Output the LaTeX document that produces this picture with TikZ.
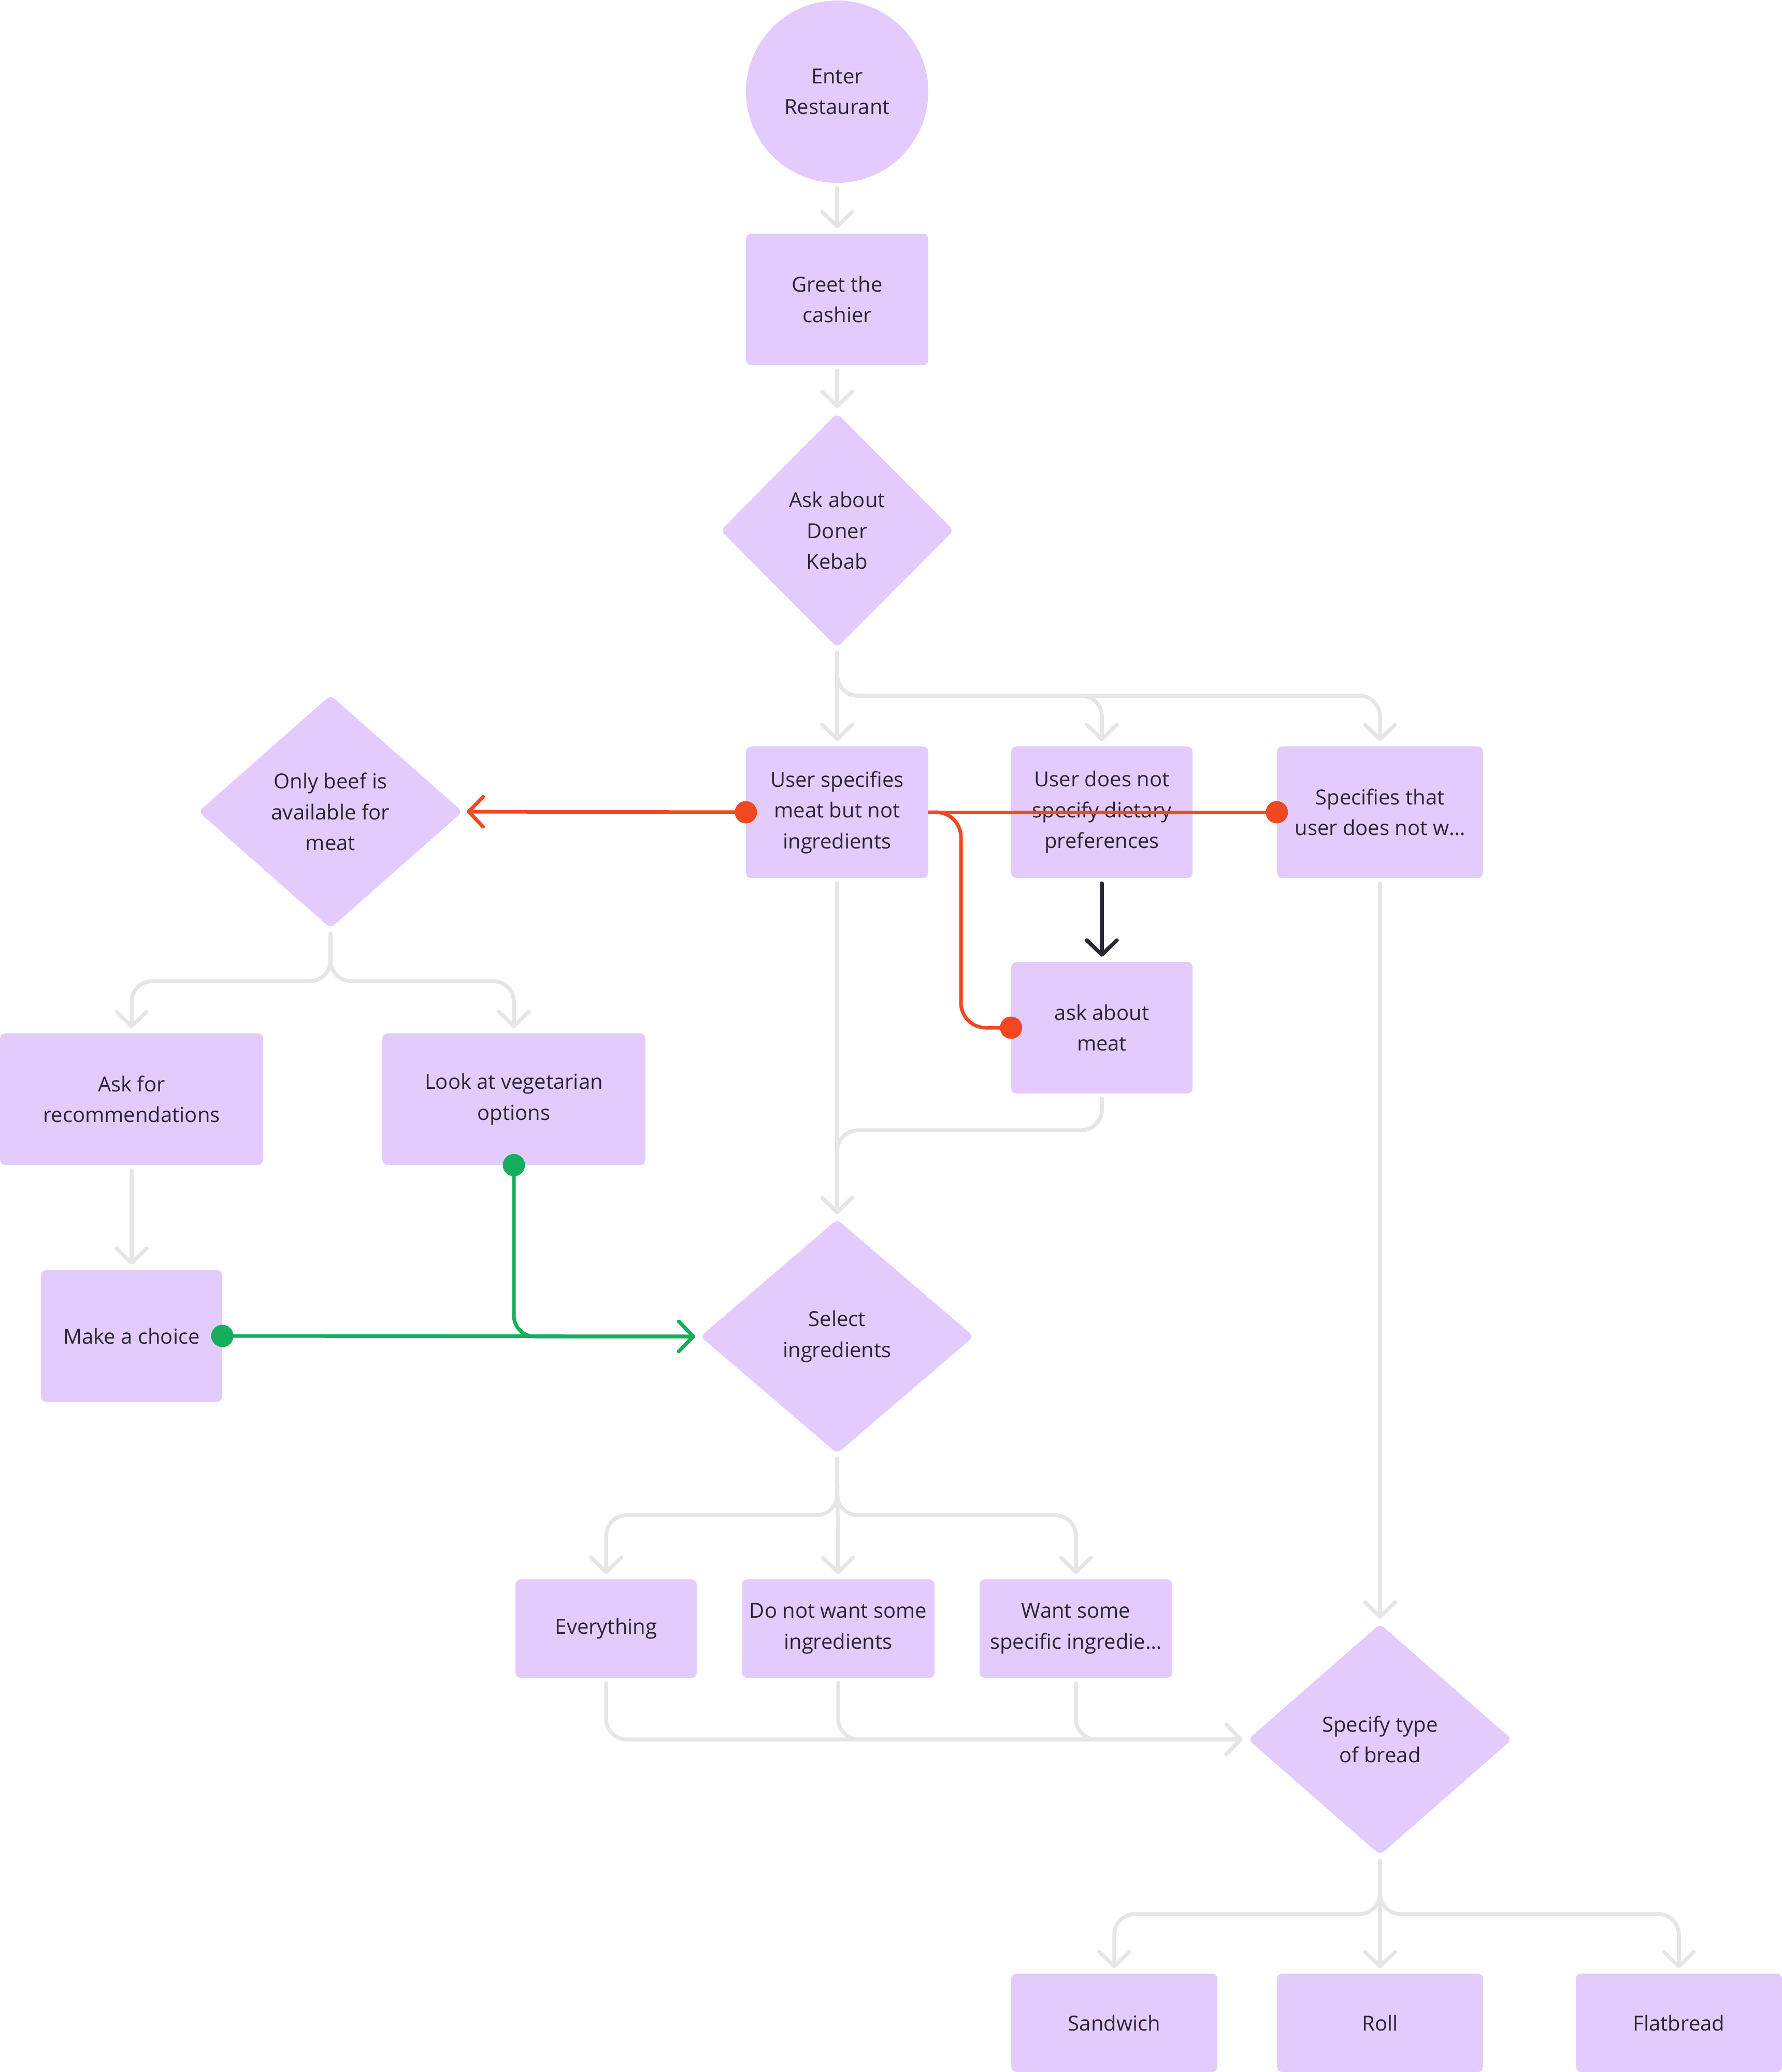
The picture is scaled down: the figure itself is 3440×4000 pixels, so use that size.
\documentclass[tikz,border=0pt]{standalone}
\usepackage{fontspec}
\setmainfont{Open Sans}
\usetikzlibrary{arrows.meta,shapes.geometric}
\definecolor{fillc}{HTML}{E3CCFD}
\definecolor{grayc}{HTML}{E6E6E6}
\definecolor{redc}{HTML}{F24822}
\definecolor{greenc}{HTML}{14AE5C}
\definecolor{darkc}{HTML}{2C2733}
\definecolor{txt}{HTML}{2A2530}
\begin{document}
\begin{tikzpicture}[x=1pt,y=-1pt,
  every node/.style={font=\fontsize{40}{59.5}\selectfont, text=txt},
  box/.style 2 args={rectangle, fill=fillc, rounded corners=10pt, minimum width=#1, minimum height=#2, inner sep=0pt, align=center},
  dia/.style 2 args={diamond, fill=fillc, minimum width=#1, minimum height=#2, inner sep=0pt, aspect=1, align=center, rounded corners=10pt},
  barb/.style={-{Straight Barb[length=28pt,width=58pt,round]}},
  gline/.style={draw=grayc, line width=7.5pt, line cap=round, rounded corners=40pt},
  garr/.style={gline, barb, shorten >=10pt, shorten <=10pt},
  rline/.style={draw=redc, line width=7pt, rounded corners=48pt},
  gnline/.style={draw=greenc, line width=7pt, rounded corners=40pt},
  dot/.style={circle, inner sep=0pt, minimum size=43pt},
]
\useasboundingbox (0,0) rectangle (3440,4000);

% nodes
\node[circle, fill=fillc, minimum size=352pt, inner sep=0pt, align=center] (start) at (1616,177) {Enter\\Restaurant};
\node[box={352pt}{254pt}] (greet) at (1616,578) {Greet the\\cashier};
\node[dia={450pt}{452pt}] (ask) at (1616,1024) {Ask about\\Doner\\Kebab};
\node[box={352pt}{254pt}] (usr) at (1616,1568) {User specifies\\meat but not\\ingredients};
\node[box={350pt}{254pt}] (nodiet) at (2127,1568) {User does not\\specify dietary\\preferences};
\node[box={398pt}{254pt}] (spec) at (2664,1568) {Specifies that\\user does not w…};
\node[dia={510pt}{450pt}] (beef) at (638,1567) {Only beef is\\available for\\meat};
\node[box={350pt}{254pt}] (askmeat) at (2127,1984) {ask about\\meat};
\node[box={508pt}{254pt}] (rec) at (254,2122) {Ask for\\recommendations};
\node[box={508pt}{254pt}] (veg) at (992,2122) {Look at vegetarian\\options};
\node[box={350pt}{254pt}] (choice) at (254,2579) {Make a choice};
\node[dia={528pt}{452pt}] (sel) at (1616,2580) {Select\\ingredients};
\node[box={350pt}{190pt}] (ev) at (1170,3144) {Everything};
\node[box={372pt}{190pt}] (dn) at (1618,3144) {Do not want some\\ingredients};
\node[box={372pt}{190pt}] (ws) at (2077,3144) {Want some\\specific ingredie…};
\node[dia={510pt}{446pt}] (bread) at (2664,3358) {Specify type\\of bread};
\node[box={398pt}{190pt}] (sand) at (2151,3905) {Sandwich};
\node[box={398pt}{190pt}] (roll) at (2664,3905) {Roll};
\node[box={398pt}{190pt}] (flat) at (3241,3905) {Flatbread};

% helper coordinates
\coordinate (a1) at (2127,1343);
\coordinate (a2) at (2664,1343);
\coordinate (b1) at (254,1894);
\coordinate (b2) at (992,1894);
\coordinate (cm) at (1616,2182);
\coordinate (s1) at (1170,2925);
\coordinate (s3) at (2077,2925);
\coordinate (t1) at (2151,3695);
\coordinate (t3) at (3241,3695);
\coordinate (rc1) at (1855,1984);

% gray connectors
\draw[garr] (start.south) -- (greet.north);
\draw[garr] (greet.south) -- (ask.north);
\draw[garr] (ask.south) -- (usr.north);
\draw[garr] (ask.south) |- (a1) -- (nodiet.north);
\draw[garr] (ask.south) |- (a2) -- (spec.north);
\draw[garr] (beef.south) |- (b1) -- (rec.north);
\draw[garr] (beef.south) |- (b2) -- (veg.north);
\draw[garr] (rec.south) -- (choice.north);
\draw[garr] (usr.south) -- (sel.north);
\draw[garr] (askmeat.south) |- (cm) -- (sel.north);
\draw[garr] (spec.south) -- (bread.north);
\draw[garr] (sel.south) -- (dn.north);
\draw[garr] (sel.south) |- (s1) -- (ev.north);
\draw[garr] (sel.south) |- (s3) -- (ws.north);
\draw[garr] (ev.south) |- (bread.west);
\draw[garr] (dn.south) |- (bread.west);
\draw[garr] (ws.south) |- (bread.west);
\draw[garr] (bread.south) -- (roll.north);
\draw[garr] (bread.south) |- (t1) -- (sand.north);
\draw[garr] (bread.south) |- (t3) -- (flat.north);

% dark connector
\draw[draw=darkc, line width=7.5pt, line cap=round, barb, shorten >=10pt, shorten <=10pt] (nodiet.south) -- (askmeat.north);

% red connectors
\draw[rline, -{Straight Barb[length=28pt,width=58pt,round]}, shorten >=8pt] (usr.west) -- (beef.east);
\draw[rline] (usr.east) -- (spec.west);
\draw[rline] (usr.east) -| (rc1) -- (askmeat.west);
\node[dot, fill=redc] (d1) at (usr.west) {};
\node[dot, fill=redc] (d2) at (spec.west) {};
\node[dot, fill=redc] (d3) at (askmeat.west) {};

% green connectors
\draw[gnline, -{Straight Barb[length=28pt,width=58pt,round]}, shorten >=10pt] (choice.east) -- (sel.west);
\draw[gnline, -{Straight Barb[length=28pt,width=58pt,round]}, shorten >=10pt] (veg.south) |- (sel.west);
\node[dot, fill=greenc] (d4) at (choice.east) {};
\node[dot, fill=greenc] (d5) at (veg.south) {};
\end{tikzpicture}
\end{document}
